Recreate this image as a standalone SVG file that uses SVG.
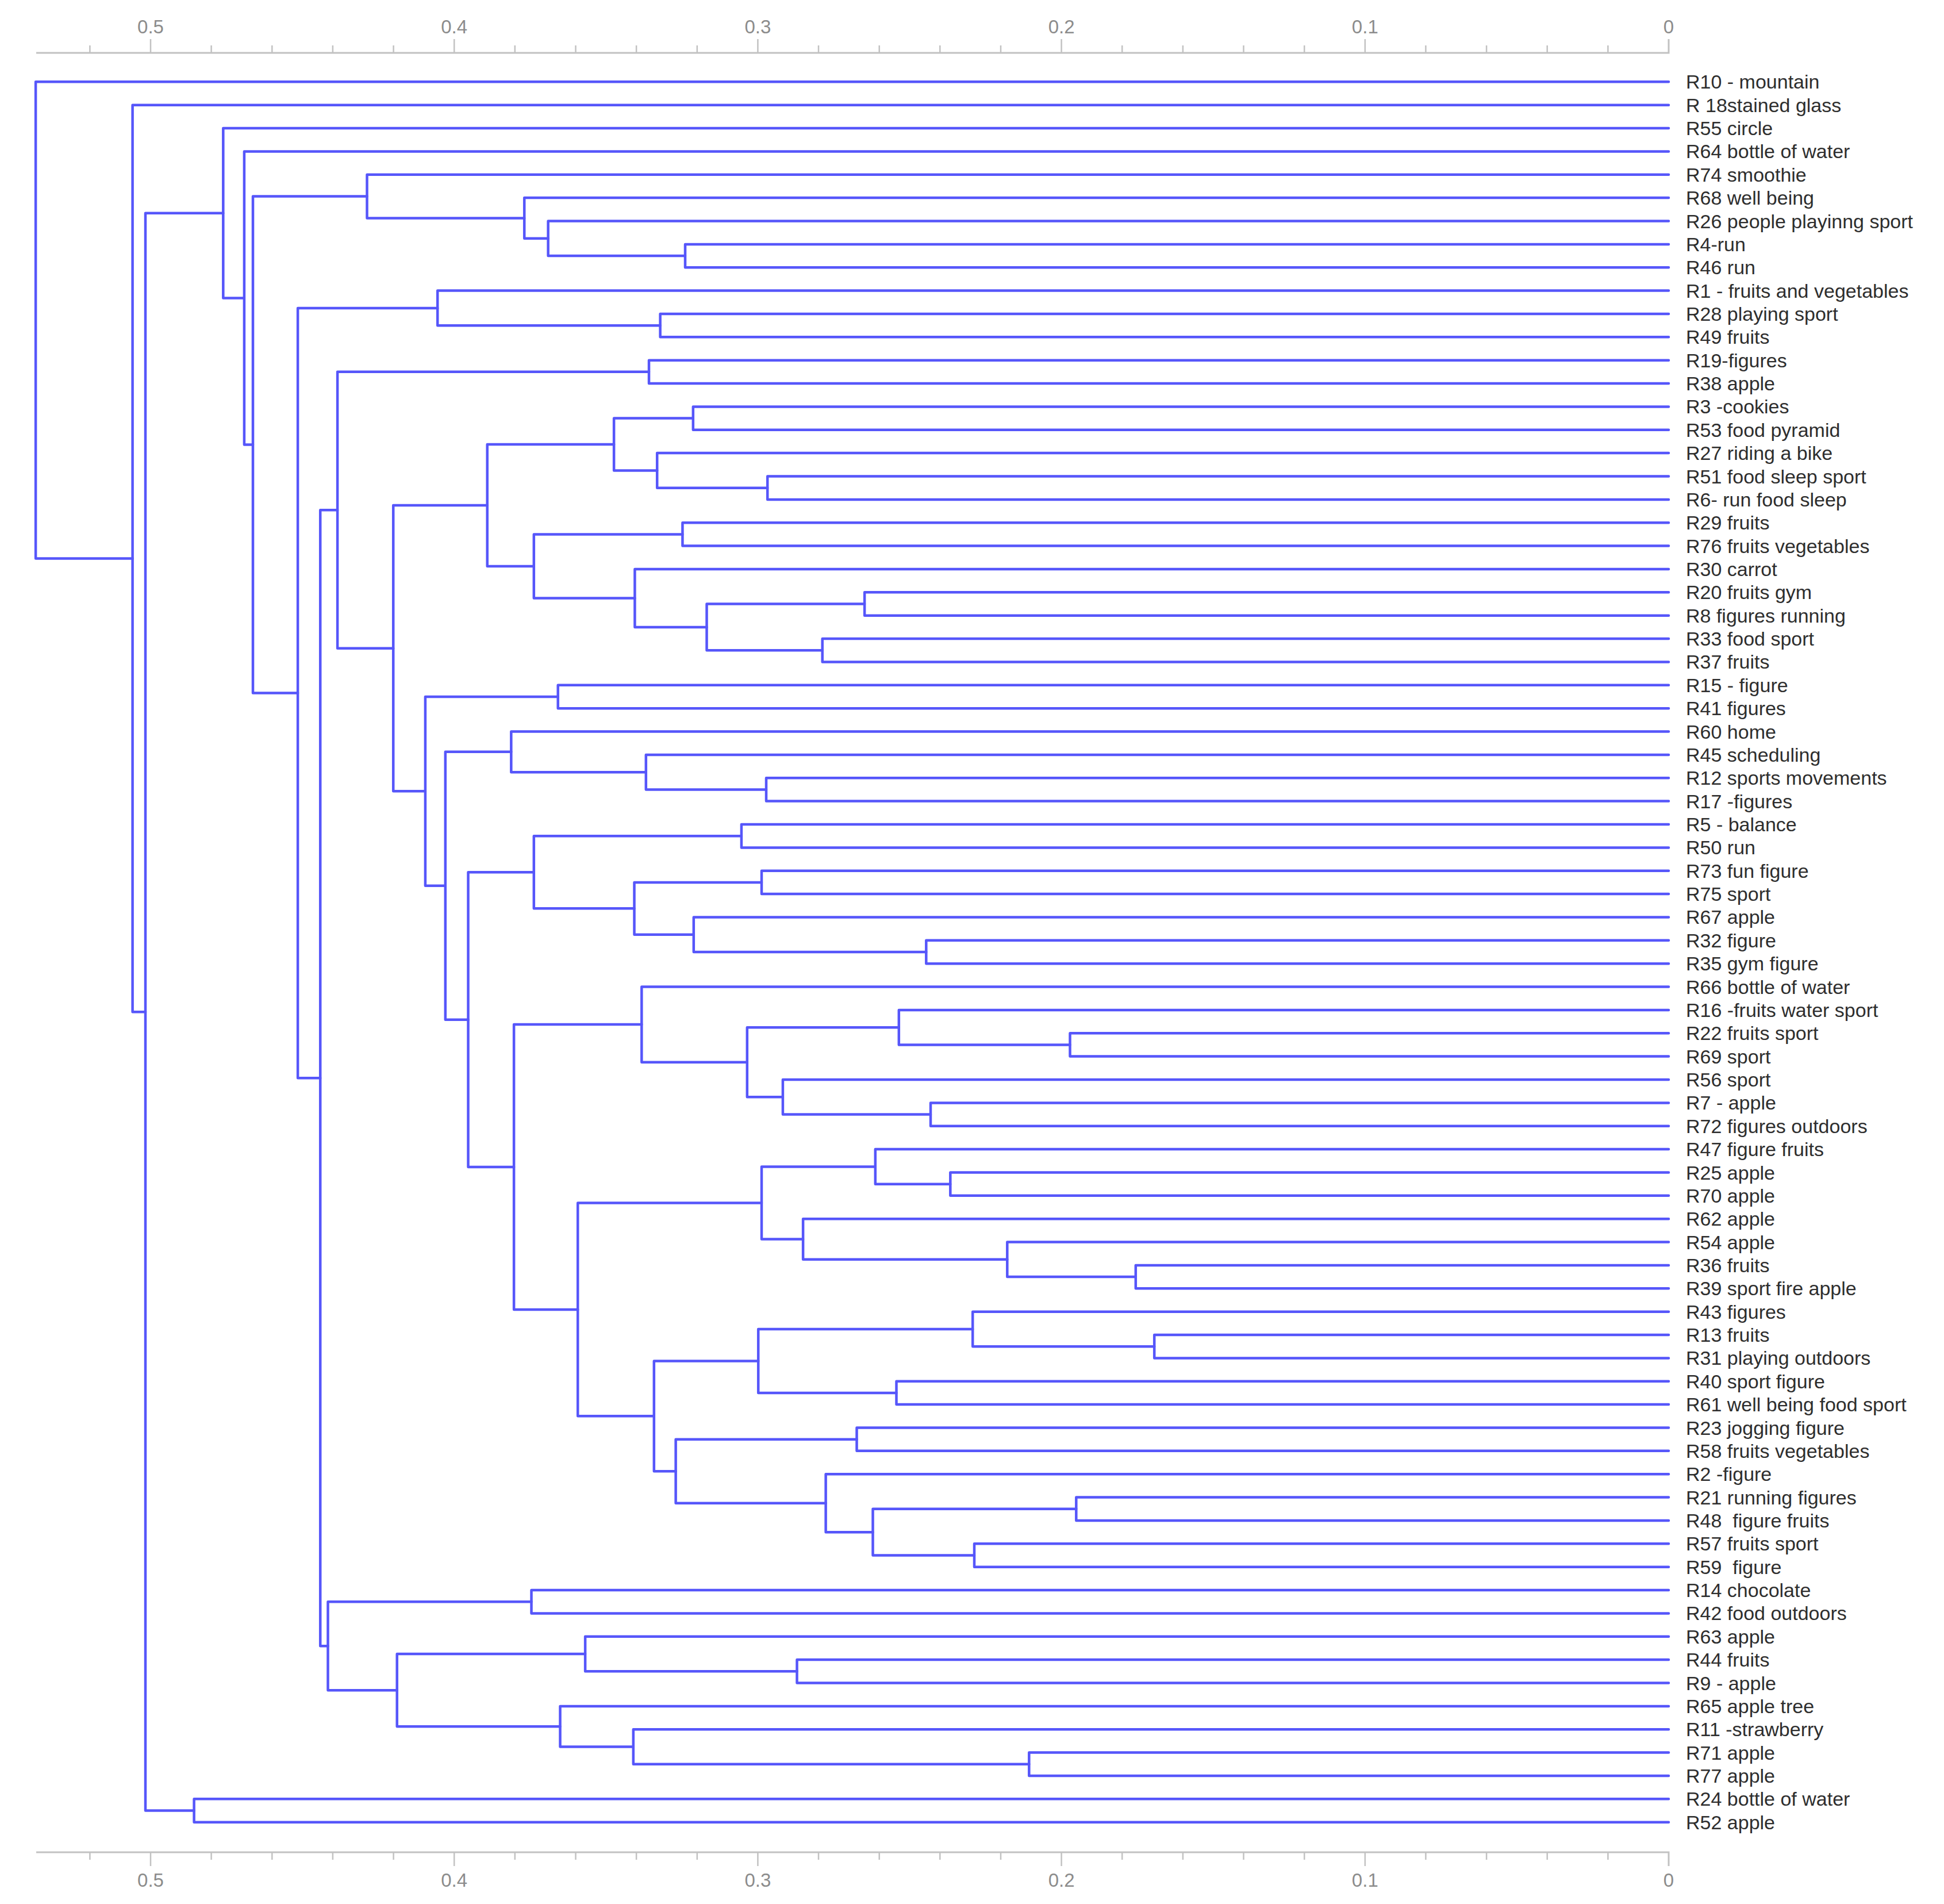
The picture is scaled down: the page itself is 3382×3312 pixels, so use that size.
<svg xmlns="http://www.w3.org/2000/svg" width="3382" height="3312" viewBox="0 0 3382 3312">
<style>
.e{fill:none;stroke:#5656fa;stroke-width:4.5;stroke-linejoin:round;stroke-linecap:round}
.ax{fill:none;stroke:#c2c2c2;stroke-width:3}
.tk{fill:none;stroke:#c2c2c2;stroke-width:2.5}
.tl{font-family:"Liberation Sans",Arial,sans-serif;font-size:33px;fill:#8c8c8c;text-anchor:middle}
.lbl{font-family:"Liberation Sans",Arial,sans-serif;font-size:34px;fill:#2e2e2e;white-space:pre}
</style>
<rect width="3382" height="3312" fill="#ffffff"/>
<g id="axis-top">
<path class="ax" d="M63,92H2903V68"/>
<path class="tk" d="M2797.4,92V79M2691.7,92V79M2586.1,92V79M2480.4,92V79M2374.8,92V68M2269.2,92V79M2163.5,92V79M2057.9,92V79M1952.2,92V79M1846.6,92V68M1741,92V79M1635.3,92V79M1529.7,92V79M1424,92V79M1318.4,92V68M1212.8,92V79M1107.1,92V79M1001.5,92V79M895.8,92V79M790.2,92V68M684.6,92V79M578.9,92V79M473.3,92V79M367.6,92V79M262,92V68M156.4,92V79"/>
<text class="tl" x="262" y="58">0.5</text>
<text class="tl" x="790.2" y="58">0.4</text>
<text class="tl" x="1318.4" y="58">0.3</text>
<text class="tl" x="1846.6" y="58">0.2</text>
<text class="tl" x="2374.8" y="58">0.1</text>
<text class="tl" x="2903" y="58">0</text>
</g>
<g id="axis-bottom">
<path class="ax" d="M63,3222H2903V3246"/>
<path class="tk" d="M2797.4,3222V3235M2691.7,3222V3235M2586.1,3222V3235M2480.4,3222V3235M2374.8,3222V3246M2269.2,3222V3235M2163.5,3222V3235M2057.9,3222V3235M1952.2,3222V3235M1846.6,3222V3246M1741,3222V3235M1635.3,3222V3235M1529.7,3222V3235M1424,3222V3235M1318.4,3222V3246M1212.8,3222V3235M1107.1,3222V3235M1001.5,3222V3235M895.8,3222V3235M790.2,3222V3246M684.6,3222V3235M578.9,3222V3235M473.3,3222V3235M367.6,3222V3235M262,3222V3246M156.4,3222V3235"/>
<text class="tl" x="262" y="3282">0.5</text>
<text class="tl" x="790.2" y="3282">0.4</text>
<text class="tl" x="1318.4" y="3282">0.3</text>
<text class="tl" x="1846.6" y="3282">0.2</text>
<text class="tl" x="2374.8" y="3282">0.1</text>
<text class="tl" x="2903" y="3282">0</text>
</g>
<g id="connectors">
<path class="e" d="M2903,424.9H1192V465.2H2903"/>
<path class="e" d="M2903,384.5H953.6V445.05H1192"/>
<path class="e" d="M2903,344.1H912.2V414.78H953.6"/>
<path class="e" d="M2903,303.8H638.5V379.44H912.2"/>
<path class="e" d="M2903,546H1148.6V586.3H2903"/>
<path class="e" d="M2903,505.6H761.2V566.15H1148.6"/>
<path class="e" d="M2903,626.7H1129V667H2903"/>
<path class="e" d="M2903,707.4H1205.8V747.8H2903"/>
<path class="e" d="M2903,828.5H1335.2V868.9H2903"/>
<path class="e" d="M2903,788.1H1143.2V848.7H1335.2"/>
<path class="e" d="M1205.8,727.6H1068.1V818.4H1143.2"/>
<path class="e" d="M2903,909.2H1187.4V949.6H2903"/>
<path class="e" d="M2903,1030.3H1504.1V1070.7H2903"/>
<path class="e" d="M2903,1111.1H1430.7V1151.4H2903"/>
<path class="e" d="M1504.1,1050.5H1229.5V1131.25H1430.7"/>
<path class="e" d="M2903,990H1104.4V1090.88H1229.5"/>
<path class="e" d="M1187.4,929.4H928.8V1040.44H1104.4"/>
<path class="e" d="M1068.1,773H847.7V984.92H928.8"/>
<path class="e" d="M2903,1191.8H970.7V1232.2H2903"/>
<path class="e" d="M2903,1353.3H1333V1393.6H2903"/>
<path class="e" d="M2903,1312.9H1123.8V1373.45H1333"/>
<path class="e" d="M2903,1272.5H889.3V1343.18H1123.8"/>
<path class="e" d="M2903,1434H1289.9V1474.4H2903"/>
<path class="e" d="M2903,1514.7H1325V1555.1H2903"/>
<path class="e" d="M2903,1635.8H1611.3V1676.2H2903"/>
<path class="e" d="M2903,1595.4H1206.8V1656H1611.3"/>
<path class="e" d="M1325,1534.9H1103.5V1625.7H1206.8"/>
<path class="e" d="M1289.9,1454.2H928.8V1580.3H1103.5"/>
<path class="e" d="M2903,1797.3H1861.5V1837.6H2903"/>
<path class="e" d="M2903,1756.9H1563.8V1817.45H1861.5"/>
<path class="e" d="M2903,1918.4H1619V1958.7H2903"/>
<path class="e" d="M2903,1878H1361.9V1938.55H1619"/>
<path class="e" d="M1563.8,1787.18H1299.8V1908.28H1361.9"/>
<path class="e" d="M2903,1716.5H1116.3V1847.73H1299.8"/>
<path class="e" d="M2903,2039.5H1653.3V2079.8H2903"/>
<path class="e" d="M2903,1999.1H1522.8V2059.65H1653.3"/>
<path class="e" d="M2903,2200.9H1975.8V2241.3H2903"/>
<path class="e" d="M2903,2160.6H1752.3V2221.1H1975.8"/>
<path class="e" d="M2903,2120.2H1397.1V2190.85H1752.3"/>
<path class="e" d="M1522.8,2029.38H1325V2155.53H1397.1"/>
<path class="e" d="M2903,2322H2008.2V2362.4H2903"/>
<path class="e" d="M2903,2281.7H1692.2V2342.2H2008.2"/>
<path class="e" d="M2903,2402.8H1559.5V2443.1H2903"/>
<path class="e" d="M1692.2,2311.95H1319.2V2422.95H1559.5"/>
<path class="e" d="M2903,2483.5H1490.5V2523.8H2903"/>
<path class="e" d="M2903,2604.6H1872.3V2644.9H2903"/>
<path class="e" d="M2903,2685.3H1695V2725.7H2903"/>
<path class="e" d="M1872.3,2624.75H1518.5V2705.5H1695"/>
<path class="e" d="M2903,2564.2H1436.6V2665.13H1518.5"/>
<path class="e" d="M1490.5,2503.65H1175.6V2614.67H1436.6"/>
<path class="e" d="M1319.2,2367.45H1137.8V2559.16H1175.6"/>
<path class="e" d="M1325,2092.46H1005.2V2463.31H1137.8"/>
<path class="e" d="M1116.3,1782.12H894.1V2277.89H1005.2"/>
<path class="e" d="M928.8,1517.25H814.5V2030H894.1"/>
<path class="e" d="M889.3,1307.84H774.8V1773.63H814.5"/>
<path class="e" d="M970.7,1212H739.9V1540.74H774.8"/>
<path class="e" d="M847.7,878.96H684.2V1376.37H739.9"/>
<path class="e" d="M1129,646.85H587.1V1127.67H684.2"/>
<path class="e" d="M2903,2766H924.5V2806.4H2903"/>
<path class="e" d="M2903,2887.1H1386.5V2927.5H2903"/>
<path class="e" d="M2903,2846.8H1018.1V2907.3H1386.5"/>
<path class="e" d="M2903,3048.6H1790.3V3089H2903"/>
<path class="e" d="M2903,3008.2H1101.8V3068.8H1790.3"/>
<path class="e" d="M2903,2967.9H974.5V3038.5H1101.8"/>
<path class="e" d="M1018.1,2877.05H690.7V3003.2H974.5"/>
<path class="e" d="M924.5,2786.2H570.5V2940.13H690.7"/>
<path class="e" d="M587.1,887.26H557.2V2863.17H570.5"/>
<path class="e" d="M761.2,535.88H518.1V1875.22H557.2"/>
<path class="e" d="M638.5,341.62H440V1205.55H518.1"/>
<path class="e" d="M2903,263.4H424.9V773.59H440"/>
<path class="e" d="M2903,223H388.3V518.5H424.9"/>
<path class="e" d="M2903,3129.3H337.6V3169.7H2903"/>
<path class="e" d="M388.3,370.75H253V3149.5H337.6"/>
<path class="e" d="M2903,182.7H230.6V1760.13H253"/>
<path class="e" d="M2903,142.3H62.1V971.42H230.6"/>
</g>
<g id="leaf-R10"><text class="lbl" x="2933" y="154.3">R10 - mountain</text></g>
<g id="leaf-R18"><text class="lbl" x="2933" y="194.7">R 18stained glass</text></g>
<g id="leaf-R55"><text class="lbl" x="2933" y="235">R55 circle</text></g>
<g id="leaf-R64"><text class="lbl" x="2933" y="275.4">R64 bottle of water</text></g>
<g id="leaf-R74"><text class="lbl" x="2933" y="315.8">R74 smoothie</text></g>
<g id="leaf-R68"><text class="lbl" x="2933" y="356.1">R68 well being</text></g>
<g id="leaf-R26"><text class="lbl" x="2933" y="396.5">R26 people playinng sport</text></g>
<g id="leaf-R4"><text class="lbl" x="2933" y="436.9">R4-run</text></g>
<g id="leaf-R46"><text class="lbl" x="2933" y="477.2">R46 run</text></g>
<g id="leaf-R1"><text class="lbl" x="2933" y="517.6">R1 - fruits and vegetables</text></g>
<g id="leaf-R28"><text class="lbl" x="2933" y="558">R28 playing sport</text></g>
<g id="leaf-R49"><text class="lbl" x="2933" y="598.3">R49 fruits</text></g>
<g id="leaf-R19"><text class="lbl" x="2933" y="638.7">R19-figures</text></g>
<g id="leaf-R38"><text class="lbl" x="2933" y="679">R38 apple</text></g>
<g id="leaf-R3"><text class="lbl" x="2933" y="719.4">R3 -cookies</text></g>
<g id="leaf-R53"><text class="lbl" x="2933" y="759.8">R53 food pyramid</text></g>
<g id="leaf-R27"><text class="lbl" x="2933" y="800.1">R27 riding a bike</text></g>
<g id="leaf-R51"><text class="lbl" x="2933" y="840.5">R51 food sleep sport</text></g>
<g id="leaf-R6"><text class="lbl" x="2933" y="880.9">R6- run food sleep</text></g>
<g id="leaf-R29"><text class="lbl" x="2933" y="921.2">R29 fruits</text></g>
<g id="leaf-R76"><text class="lbl" x="2933" y="961.6">R76 fruits vegetables</text></g>
<g id="leaf-R30"><text class="lbl" x="2933" y="1002">R30 carrot</text></g>
<g id="leaf-R20"><text class="lbl" x="2933" y="1042.3">R20 fruits gym</text></g>
<g id="leaf-R8"><text class="lbl" x="2933" y="1082.7">R8 figures running</text></g>
<g id="leaf-R33"><text class="lbl" x="2933" y="1123.1">R33 food sport</text></g>
<g id="leaf-R37"><text class="lbl" x="2933" y="1163.4">R37 fruits</text></g>
<g id="leaf-R15"><text class="lbl" x="2933" y="1203.8">R15 - figure</text></g>
<g id="leaf-R41"><text class="lbl" x="2933" y="1244.2">R41 figures</text></g>
<g id="leaf-R60"><text class="lbl" x="2933" y="1284.5">R60 home</text></g>
<g id="leaf-R45"><text class="lbl" x="2933" y="1324.9">R45 scheduling</text></g>
<g id="leaf-R12"><text class="lbl" x="2933" y="1365.3">R12 sports movements</text></g>
<g id="leaf-R17"><text class="lbl" x="2933" y="1405.6">R17 -figures</text></g>
<g id="leaf-R5"><text class="lbl" x="2933" y="1446">R5 - balance</text></g>
<g id="leaf-R50"><text class="lbl" x="2933" y="1486.4">R50 run</text></g>
<g id="leaf-R73"><text class="lbl" x="2933" y="1526.7">R73 fun figure</text></g>
<g id="leaf-R75"><text class="lbl" x="2933" y="1567.1">R75 sport</text></g>
<g id="leaf-R67"><text class="lbl" x="2933" y="1607.4">R67 apple</text></g>
<g id="leaf-R32"><text class="lbl" x="2933" y="1647.8">R32 figure</text></g>
<g id="leaf-R35"><text class="lbl" x="2933" y="1688.2">R35 gym figure</text></g>
<g id="leaf-R66"><text class="lbl" x="2933" y="1728.5">R66 bottle of water</text></g>
<g id="leaf-R16"><text class="lbl" x="2933" y="1768.9">R16 -fruits water sport</text></g>
<g id="leaf-R22"><text class="lbl" x="2933" y="1809.3">R22 fruits sport</text></g>
<g id="leaf-R69"><text class="lbl" x="2933" y="1849.6">R69 sport</text></g>
<g id="leaf-R56"><text class="lbl" x="2933" y="1890">R56 sport</text></g>
<g id="leaf-R7"><text class="lbl" x="2933" y="1930.4">R7 - apple</text></g>
<g id="leaf-R72"><text class="lbl" x="2933" y="1970.7">R72 figures outdoors</text></g>
<g id="leaf-R47"><text class="lbl" x="2933" y="2011.1">R47 figure fruits</text></g>
<g id="leaf-R25"><text class="lbl" x="2933" y="2051.5">R25 apple</text></g>
<g id="leaf-R70"><text class="lbl" x="2933" y="2091.8">R70 apple</text></g>
<g id="leaf-R62"><text class="lbl" x="2933" y="2132.2">R62 apple</text></g>
<g id="leaf-R54"><text class="lbl" x="2933" y="2172.6">R54 apple</text></g>
<g id="leaf-R36"><text class="lbl" x="2933" y="2212.9">R36 fruits</text></g>
<g id="leaf-R39"><text class="lbl" x="2933" y="2253.3">R39 sport fire apple</text></g>
<g id="leaf-R43"><text class="lbl" x="2933" y="2293.7">R43 figures</text></g>
<g id="leaf-R13"><text class="lbl" x="2933" y="2334">R13 fruits</text></g>
<g id="leaf-R31"><text class="lbl" x="2933" y="2374.4">R31 playing outdoors</text></g>
<g id="leaf-R40"><text class="lbl" x="2933" y="2414.8">R40 sport figure</text></g>
<g id="leaf-R61"><text class="lbl" x="2933" y="2455.1">R61 well being food sport</text></g>
<g id="leaf-R23"><text class="lbl" x="2933" y="2495.5">R23 jogging figure</text></g>
<g id="leaf-R58"><text class="lbl" x="2933" y="2535.8">R58 fruits vegetables</text></g>
<g id="leaf-R2"><text class="lbl" x="2933" y="2576.2">R2 -figure</text></g>
<g id="leaf-R21"><text class="lbl" x="2933" y="2616.6">R21 running figures</text></g>
<g id="leaf-R48"><text class="lbl" x="2933" y="2656.9" xml:space="preserve">R48  figure fruits</text></g>
<g id="leaf-R57"><text class="lbl" x="2933" y="2697.3">R57 fruits sport</text></g>
<g id="leaf-R59"><text class="lbl" x="2933" y="2737.7" xml:space="preserve">R59  figure</text></g>
<g id="leaf-R14"><text class="lbl" x="2933" y="2778">R14 chocolate</text></g>
<g id="leaf-R42"><text class="lbl" x="2933" y="2818.4">R42 food outdoors</text></g>
<g id="leaf-R63"><text class="lbl" x="2933" y="2858.8">R63 apple</text></g>
<g id="leaf-R44"><text class="lbl" x="2933" y="2899.1">R44 fruits</text></g>
<g id="leaf-R9"><text class="lbl" x="2933" y="2939.5">R9 - apple</text></g>
<g id="leaf-R65"><text class="lbl" x="2933" y="2979.9">R65 apple tree</text></g>
<g id="leaf-R11"><text class="lbl" x="2933" y="3020.2">R11 -strawberry</text></g>
<g id="leaf-R71"><text class="lbl" x="2933" y="3060.6">R71 apple</text></g>
<g id="leaf-R77"><text class="lbl" x="2933" y="3101">R77 apple</text></g>
<g id="leaf-R24"><text class="lbl" x="2933" y="3141.3">R24 bottle of water</text></g>
<g id="leaf-R52"><text class="lbl" x="2933" y="3181.7">R52 apple</text></g>
</svg>
